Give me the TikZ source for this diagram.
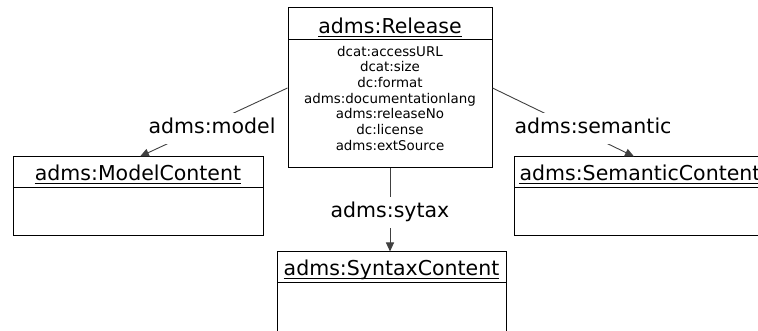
\documentclass[tikz,border=0pt]{standalone}
\usepackage{fontspec}
\setmainfont{DejaVu Sans}
\usetikzlibrary{arrows.meta}
\tikzset{
  classbox/.style={draw=black, line width=1pt, rectangle, inner sep=0pt},
  compartment/.style={draw=black, line width=1pt},
  classtitle/.style={anchor=base, inner sep=0pt, font=\fontsize{20.5}{24}\selectfont},
  titleline/.style={draw=black, line width=0.9pt},
  attrs/.style={anchor=north, inner sep=0pt, align=center, font=\fontsize{13.4}{15.7}\selectfont},
  assoc/.style={draw=black!75, line width=0.9pt},
  assocarrow/.style={assoc, -{Triangle[length=9pt,width=8pt]}},
  rolelabel/.style={anchor=base, fill=white, inner xsep=3pt, inner ysep=6pt,
    text height=15pt, text depth=4pt, font=\fontsize{20.5}{24}\selectfont},
}
\newcommand\underlinetitle[1]{%
  \draw[titleline] ([yshift=-2.5pt]#1.base west) -- ([yshift=-2.5pt]#1.base east);}
\begin{document}
\begin{tikzpicture}[x=1pt,y=-1pt]
\useasboundingbox (0,0) rectangle (758,331);
\clip (0,0) rectangle (758,331);

% adms:Release
\node[classbox, minimum width=204pt, minimum height=160pt] (rel) at (390,88) {};
\draw[compartment] (288,40) -- (492,40);
\node[classtitle] (relt) at (390,34) {adms:Release};
\underlinetitle{relt}
\node[attrs] (rela) at (390,45.8) {dcat:accessURL\\dcat:size\\dc:format\\adms:documentationlang\\adms:releaseNo\\dc:license\\adms:extSource};

% adms:ModelContent
\node[classbox, minimum width=250pt, minimum height=79pt] (mc) at (138,196.5) {};
\draw[compartment] (13,188) -- (263,188);
\node[classtitle] (mct) at (138,181) {adms:ModelContent};
\underlinetitle{mct}

% adms:SemanticContent
\node[classbox, minimum width=252pt, minimum height=79pt] (sc) at (640,196.5) {};
\draw[compartment] (514,188) -- (766,188);
\node[classtitle] (sct) at (640,181) {adms:SemanticContent};
\underlinetitle{sct}

% adms:SyntaxContent
\node[classbox, minimum width=229pt, minimum height=98pt] (sx) at (391.5,301) {};
\draw[compartment] (277,283) -- (506,283);
\node[classtitle] (sxt) at (391.5,276) {adms:SyntaxContent};
\underlinetitle{sxt}

% associations
\draw[assocarrow] (rel.west) -- ([xshift=2pt]mc.north);
\node[rolelabel] (lm) at (212,134) {adms:model};

\draw[assocarrow] (rel.east) -- ([xshift=-6pt]sc.north);
\node[rolelabel] (ls) at (593,134) {adms:semantic};

\draw[assocarrow] (rel.south) -- (rel.south |- sx.north);
\node[rolelabel] (lx) at (390,218) {adms:sytax};
\end{tikzpicture}
\end{document}
